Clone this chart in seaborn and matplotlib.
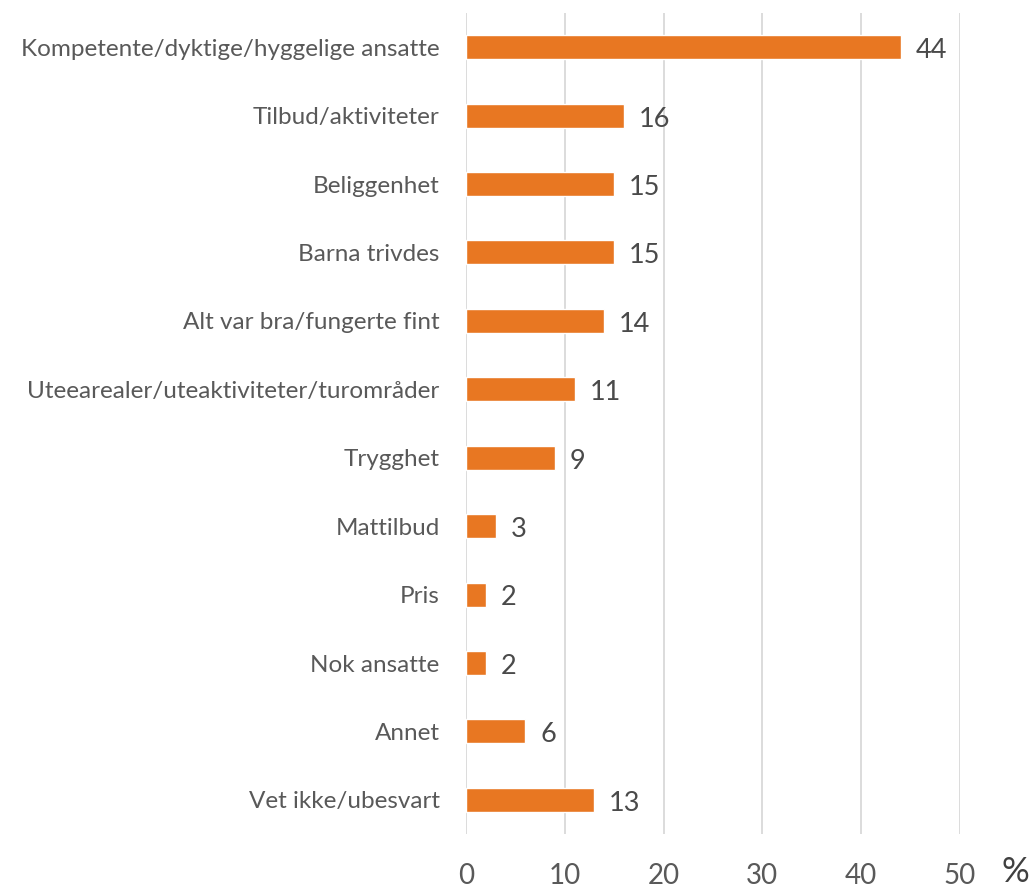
import pandas as pd
import matplotlib
matplotlib.use("Agg")
import matplotlib.pyplot as plt
import seaborn as sns

# Hva var bra - andel i prosent
categories = [
    "Kompetente/dyktige/hyggelige ansatte",
    "Tilbud/aktiviteter",
    "Beliggenhet",
    "Barna trivdes",
    "Alt var bra/fungerte fint",
    "Uteearealer/uteaktiviteter/turområder",
    "Trygghet",
    "Mattilbud",
    "Pris",
    "Nok ansatte",
    "Annet",
    "Vet ikke/ubesvart",
]
values = [44, 16, 15, 15, 14, 11, 9, 3, 2, 2, 6, 13]
x_ticks = [0, 10, 20, 30, 40, 50]

df = pd.DataFrame({"kategori": categories, "prosent": values})

sns.set_style("white")
plt.rcParams["font.family"] = ["Lato", "DejaVu Sans"]

text_grey = "#595959"
bar_color = "#E87722"

fig = plt.figure(figsize=(10.35, 8.89), dpi=100)
ax = fig.add_axes([0.4502, 0.0618, 0.4773, 0.9236])

sns.barplot(data=df, x="prosent", y="kategori", color=bar_color,
            width=0.35, saturation=1, ax=ax, zorder=3)

ax.set_xlim(0, 50)
ax.set_xticks(x_ticks)
ax.xaxis.grid(True, color="#d9d9d9", linewidth=1.3, zorder=0)
ax.set_axisbelow(True)
for s in ax.spines.values():
    s.set_visible(False)

ax.tick_params(axis="x", length=0, pad=21, labelsize=20, labelcolor=text_grey)
ax.tick_params(axis="y", length=0, pad=19, labelsize=17.5, labelcolor=text_grey)
ax.set_xlabel("")
ax.set_ylabel("")

for i, v in enumerate(values):
    ax.text(v + 1.5, i + 0.05, str(v), va="center", ha="left",
            fontsize=19.5, color="#4a4a4a")

fig.text(0.981, 0.019, "%", fontsize=25, color="#404040", ha="center", va="center")

fig.savefig("out.png", dpi=100)
